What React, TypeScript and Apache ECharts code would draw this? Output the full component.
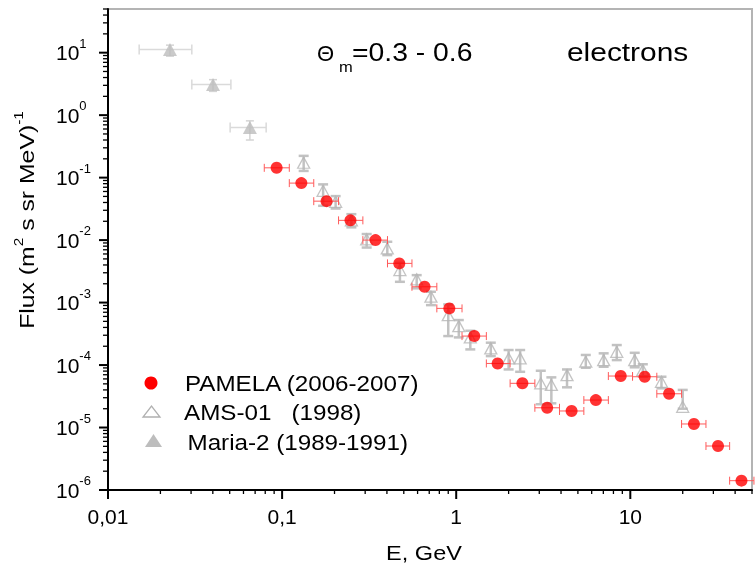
import React, { useEffect, useRef } from 'react';
import * as echarts from 'echarts';

// ---------- data ----------
// PAMELA (2006-2007): energy (GeV), flux, energy-bin low/high edges
const PAMELA_E = [0.093, 0.129, 0.18, 0.247, 0.344, 0.471, 0.658, 0.913, 1.27, 1.73, 2.4, 3.33, 4.6, 6.34, 8.81, 12.1, 16.7, 23.2, 31.9, 43.5];
const PAMELA_F = [0.1435, 0.0817, 0.042, 0.0207, 0.01, 0.00424, 0.00179, 0.000807, 0.000291, 1.06e-4, 5.1e-5, 2.07e-5, 1.84e-5, 2.75e-5, 6.67e-5, 6.5e-5, 3.47e-5, 1.14e-5, 5.06e-6, 1.41e-6];
const PAMELA_E_LO = [0.079, 0.11, 0.152, 0.211, 0.291, 0.403, 0.557, 0.774, 1.08, 1.49, 2.04, 2.83, 3.92, 5.41, 7.48, 10.3, 14.2, 19.7, 27.2, 37.2];
const PAMELA_E_HI = [0.11, 0.152, 0.211, 0.291, 0.403, 0.557, 0.774, 1.08, 1.49, 2.04, 2.83, 3.92, 5.41, 7.48, 10.3, 14.2, 19.7, 27.2, 37.2, 51.3];

// AMS-01 (1998): energy, flux, flux low/high
const AMS_E = [0.133, 0.172, 0.203, 0.25, 0.306, 0.402, 0.475, 0.593, 0.716, 0.9, 1.035, 1.205, 1.58, 2.0, 2.33, 3.06, 3.52, 4.33, 5.55, 7.03, 8.36, 10.6, 11.8, 15.1, 20.0];
const AMS_F = [0.173, 0.0615, 0.041, 0.0207, 0.0103, 0.00736, 0.00331, 0.00235, 0.00124, 6.3e-4, 4.2e-4, 2.77e-4, 1.85e-4, 1.28e-4, 1.28e-4, 5.1e-5, 4.8e-5, 6.9e-5, 1.13e-4, 1.2e-4, 1.63e-4, 1.2e-4, 8.3e-5, 5.4e-5, 2.15e-5];
const AMS_F_HI = [0.223, 0.078, 0.0506, 0.026, 0.0125, 0.0094, 0.00433, 0.00275, 0.00149, 9.35e-4, 5.25e-4, 3.54e-4, 2.28e-4, 1.74e-4, 1.74e-4, 8.1e-5, 6.35e-5, 8.5e-5, 1.45e-4, 1.54e-4, 2.09e-4, 1.57e-4, 1.03e-4, 6.5e-5, 4.0e-5];
const AMS_F_LO = [0.128, 0.0354, 0.032, 0.016, 0.0076, 0.00575, 0.00215, 0.00169, 9.1e-4, 2.91e-4, 2.77e-4, 1.78e-4, 1.39e-4, 8.5e-5, 7.8e-5, 2.36e-5, 2.44e-5, 4.4e-5, 9.06e-5, 9.4e-5, 1.2e-4, 9.2e-5, 6.5e-5, 4.24e-5, 2.0e-5];

// Maria-2 (1989-1991): energy, flux, energy low/high, flux low/high
const MARIA_E = [0.0227, 0.0401, 0.0653];
const MARIA_F = [11.2, 3.1, 0.636];
const MARIA_E_LO = [0.0151, 0.0303, 0.0503];
const MARIA_E_HI = [0.0303, 0.0508, 0.081];
const MARIA_F_LO = [8.8, 2.4, 0.4];
const MARIA_F_HI = [13.2, 3.7, 0.81];

const X_LABELS: Record<string, string> = { '-2': '0,01', '-1': '0,1', '0': '1', '1': '10' };
const LEGEND_NAMES = ['PAMELA (2006-2007)', 'AMS-01   (1998)', 'Maria-2 (1989-1991)'];
const TITLE_TEXT = '=0.3 - 0.6';
const PARTICLE_TEXT = 'electrons';
const X_NAME = 'E, GeV';

const FONT = '"Liberation Sans", Arial, Helvetica, sans-serif';
const X_MIN = 0.01, X_MAX = 50, Y_MIN = 1e-6, Y_MAX = 50;

function isPow10(v: number) {
  const e = Math.round(Math.log10(v));
  return Math.abs(v - Math.pow(10, e)) / Math.pow(10, e) < 1e-6 ? e : null;
}

export default function App() {
  const ref = useRef<HTMLDivElement>(null);
  useEffect(() => {
    const chart = echarts.init(ref.current!, null, { renderer: 'svg' });

    const xTicks: number[][] = [];
    for (let e = -2; e <= 1; e++) for (let m = 1; m <= 9; m++) {
      const v = m * Math.pow(10, e);
      if (v <= X_MAX * 1.0001) xTicks.push([v, Y_MIN, m === 1 ? 1 : 0]);
    }
    const yTicks: number[][] = [];
    for (let e = -6; e <= 1; e++) for (let m = 1; m <= 9; m++) {
      const v = m * Math.pow(10, e);
      if (v <= Y_MAX * 1.0001) yTicks.push([X_MIN, v, m === 1 ? 1 : 0]);
    }

    const hBar = (color: string, w: number, cap: number, iLo: number, iHi: number) =>
      (params: any, api: any) => {
        const y = api.value(1);
        const a = api.coord([api.value(iLo), y]);
        const b = api.coord([api.value(iHi), y]);
        const st = { stroke: color, lineWidth: w };
        return {
          type: 'group', children: [
            { type: 'line', shape: { x1: a[0], y1: a[1], x2: b[0], y2: b[1] }, style: st },
            { type: 'line', shape: { x1: a[0], y1: a[1] - cap, x2: a[0], y2: a[1] + cap }, style: st },
            { type: 'line', shape: { x1: b[0], y1: b[1] - cap, x2: b[0], y2: b[1] + cap }, style: st },
          ],
        };
      };
    const vBar = (color: string, w: number, cap: number, iLo: number, iHi: number) =>
      (params: any, api: any) => {
        const x = api.value(0);
        const a = api.coord([x, api.value(iLo)]);
        const b = api.coord([x, api.value(iHi)]);
        const st = { stroke: color, lineWidth: w };
        return {
          type: 'group', children: [
            { type: 'line', shape: { x1: a[0], y1: a[1], x2: b[0], y2: b[1] }, style: st },
            { type: 'line', shape: { x1: a[0] - cap, y1: a[1], x2: a[0] + cap, y2: a[1] }, style: st },
            { type: 'line', shape: { x1: b[0] - cap, y1: b[1], x2: b[0] + cap, y2: b[1] }, style: st },
          ],
        };
      };

    const txt = (x: number, y: number, text: string, size: number, sx: number, extra: any = {}) => ({
      type: 'text', x, y, scaleX: sx,
      style: { text, fontSize: size, fontFamily: FONT, fill: '#000', verticalAlign: 'middle', ...extra },
    });

    const option: any = {
      animation: false,
      grid: { left: 108, right: -10, top: 9, bottom: 81, show: true, borderColor: '#b4b4b4', borderWidth: 2, backgroundColor: 'transparent' },
      xAxis: {
        type: 'log', logBase: 10, min: X_MIN, max: X_MAX,
        axisLine: { show: true, onZero: false, lineStyle: { color: '#000', width: 2 } },
        axisTick: { show: false }, splitLine: { show: false }, minorTick: { show: false },
        axisLabel: {
          margin: 16, fontSize: 21, color: '#000', fontFamily: FONT,
          formatter: (v: number) => { const e = isPow10(v); return e === null ? '' : (X_LABELS[String(e)] ?? ''); },
        },
      },
      yAxis: {
        type: 'log', logBase: 10, min: Y_MIN, max: Y_MAX,
        axisLine: { show: true, onZero: false, lineStyle: { color: '#000', width: 2 } },
        axisTick: { show: false }, splitLine: { show: false }, minorTick: { show: false },
        axisLabel: {
          margin: 52, align: 'left',
          formatter: (v: number) => { const e = isPow10(v); return e === null ? '' : `{b|10}{s|${e}}`; },
          rich: {
            b: { fontSize: 21, lineHeight: 32, fontFamily: FONT, color: '#000' },
            s: { fontSize: 13, lineHeight: 13, verticalAlign: 'top', fontFamily: FONT, color: '#000' },
          },
        },
      },
      series: [
        {
          type: 'custom', silent: true, clip: false, z: 5,
          data: xTicks,
          renderItem: (params: any, api: any) => {
            const p = api.coord([api.value(0), api.value(1)]);
            const major = api.value(2) === 1;
            return { type: 'line', shape: { x1: p[0], y1: p[1], x2: p[0], y2: p[1] + (major ? 9 : 4) }, style: { stroke: '#000', lineWidth: major ? 2 : 1.3 } };
          },
        },
        {
          type: 'custom', silent: true, clip: false, z: 5,
          data: yTicks,
          renderItem: (params: any, api: any) => {
            const p = api.coord([api.value(0), api.value(1)]);
            const major = api.value(2) === 1;
            return { type: 'line', shape: { x1: p[0] - (major ? 9 : 5), y1: p[1], x2: p[0], y2: p[1] }, style: { stroke: '#000', lineWidth: major ? 2 : 1.3 } };
          },
        },
        // Maria-2 error bars
        {
          type: 'custom', silent: true, clip: false, z: 2,
          data: MARIA_E.map((e, i) => [e, MARIA_F[i], MARIA_E_LO[i], MARIA_E_HI[i]]),
          renderItem: hBar('#dadada', 1.5, 5, 2, 3),
        },
        {
          type: 'custom', silent: true, clip: false, z: 2,
          data: MARIA_E.map((e, i) => [e, MARIA_F[i], MARIA_F_LO[i], MARIA_F_HI[i]]),
          renderItem: vBar('#d4d4d4', 1.5, 4, 2, 3),
        },
        {
          name: LEGEND_NAMES[2], type: 'scatter', z: 3, silent: true,
          symbol: 'triangle', symbolSize: [14, 13],
          itemStyle: { color: '#bdbdbd' },
          data: MARIA_E.map((e, i) => [e, MARIA_F[i]]),
        },
        // AMS-01 error bars
        {
          type: 'custom', silent: true, clip: false, z: 2,
          data: AMS_E.map((e, i) => [e, AMS_F[i], AMS_F_LO[i], AMS_F_HI[i]]),
          renderItem: vBar('#c2c2c2', 2.5, 5, 2, 3),
        },
        {
          name: LEGEND_NAMES[1], type: 'scatter', z: 3, silent: true,
          symbol: 'triangle', symbolSize: [12, 11],
          itemStyle: { color: 'rgba(255,255,255,0)', borderColor: '#b5b5b5', borderWidth: 1.3 },
          data: AMS_E.map((e, i) => [e, AMS_F[i]]),
        },
        // PAMELA error bars
        {
          type: 'custom', silent: true, clip: false, z: 4,
          data: PAMELA_E.map((e, i) => [e, PAMELA_F[i], PAMELA_E_LO[i], PAMELA_E_HI[i]]),
          renderItem: hBar('#ff5a5a', 1, 4, 2, 3),
        },
        {
          name: LEGEND_NAMES[0], type: 'scatter', z: 4, silent: true,
          symbol: 'circle', symbolSize: 12,
          itemStyle: { color: '#ff0000' },
          data: PAMELA_E.map((e, i) => [e, PAMELA_F[i]]),
        },
      ],
      graphic: [
        // title texts
        txt(317, 53, 'Θ', 22, 1.0),
        txt(339, 67, 'm', 15, 1.1),
        txt(352, 52, TITLE_TEXT, 26, 1.09),
        txt(567, 52, PARTICLE_TEXT, 26, 1.15),
        // legend
        { type: 'circle', shape: { cx: 151, cy: 383, r: 6.5 }, style: { fill: '#ff0000' } },
        { type: 'polygon', shape: { points: [[143, 417], [160, 417], [151.5, 406]] }, style: { fill: 'none', stroke: '#b0b0b0', lineWidth: 1.3 } },
        { type: 'polygon', shape: { points: [[145, 447], [162, 447], [153.5, 434]] }, style: { fill: '#bdbdbd' } },
        txt(185, 383, LEGEND_NAMES[0], 22, 1.1),
        txt(184, 412.5, LEGEND_NAMES[1], 22, 1.1),
        txt(187.5, 442, LEGEND_NAMES[2], 22, 1.1),
        // axis names
        txt(424, 553, X_NAME, 21, 1.12, { align: 'center' }),
        {
          type: 'text', x: 27, y: 220, rotation: Math.PI / 2, scaleX: 1.18,
          style: {
            text: '{t|Flux (m}{s|2}{t| s sr MeV)}{s|-1}', align: 'center', verticalAlign: 'middle',
            rich: {
              t: { fontSize: 21, lineHeight: 30, fontFamily: FONT, fill: '#000', verticalAlign: 'middle' },
              s: { fontSize: 13, lineHeight: 13, fontFamily: FONT, fill: '#000', verticalAlign: 'top' },
            },
          },
        },
      ],
    };
    chart.setOption(option);
    return () => chart.dispose();
  }, []);
  return <div ref={ref} style={{ position: 'fixed', left: 0, top: 0, width: 755, height: 571 }} />;
}
